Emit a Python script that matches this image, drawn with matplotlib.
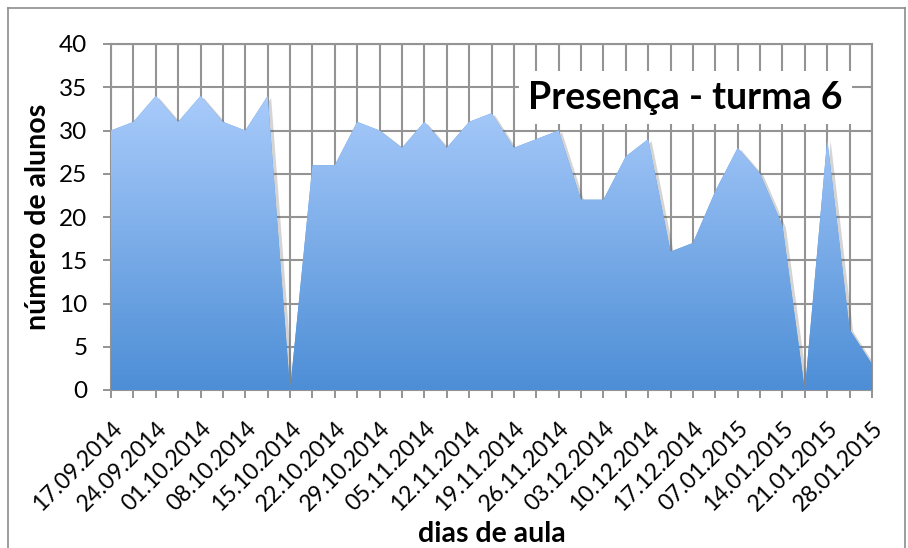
import numpy as np
import matplotlib
matplotlib.use('Agg')
import matplotlib.pyplot as plt
from matplotlib.colors import LinearSegmentedColormap
from matplotlib import patheffects as pe

# aulas (duas por semana), só as datas de segunda aula têm etiqueta
datas = ['17.09.2014', '', '24.09.2014', '', '01.10.2014', '', '08.10.2014', '',
         '15.10.2014', '', '22.10.2014', '', '29.10.2014', '', '05.11.2014', '',
         '12.11.2014', '', '19.11.2014', '', '26.11.2014', '', '03.12.2014', '',
         '10.12.2014', '', '17.12.2014', '', '07.01.2015', '', '14.01.2015', '',
         '21.01.2015', '', '28.01.2015']
alunos = [30, 31, 34, 31, 34, 31, 30, 34, 0, 26, 26, 31, 30, 28, 31, 28, 31, 32,
          28, 29, 30, 22, 22, 27, 29, 16, 17, 23, 28, 25, 19, 0, 29, 7, 3]
yticks = [0, 5, 10, 15, 20, 25, 30, 35, 40]

font = ['Lato', 'DejaVu Sans']
grid_c = '#949494'

fig = plt.figure(figsize=(9.08, 5.48), dpi=100)
ax = fig.add_axes([111/908, 1-390/548, 761/908, 346/548])

x = np.arange(len(alunos))
y = np.array(alunos)

# area com sombra e gradiente
poly = ax.fill_between(x, 0, y, facecolor='#5a97da', edgecolor='none', zorder=2,
                       path_effects=[pe.SimplePatchShadow(offset=(2.5, -1.5), alpha=0.25, shadow_rgbFace='#555555'), pe.Normal()])
cmap = LinearSegmentedColormap.from_list('grad', ['#4d8ed6', '#a9cbfb'])
grad = np.linspace(0, 1, 256).reshape(-1, 1)
im = ax.imshow(grad, cmap=cmap, aspect='auto', origin='lower',
               extent=[0, len(alunos)-1, 0, max(alunos)], zorder=3)
im.set_clip_path(poly.get_paths()[0], transform=ax.transData)

ax.set_xlim(0, len(alunos)-1)
ax.set_ylim(0, 40)
ax.set_xticks(x)
ax.set_xticklabels(datas, rotation=45, ha='right', va='top', rotation_mode='anchor',
                   fontsize=16.5, family=font)
ax.set_yticks(yticks)
ax.set_yticklabels([str(v) for v in yticks], fontsize=17.5, family=font)
ax.tick_params(axis='both', color=grid_c, width=1.4, length=6)
ax.tick_params(axis='y', pad=11)
ax.tick_params(axis='x', pad=14)
ax.grid(True, color=grid_c, linewidth=1.5, zorder=0)
ax.set_axisbelow(True)
for s in ax.spines.values():
    s.set_color(grid_c)
    s.set_linewidth(1.5)

ax.set_ylabel('número de alunos', fontsize=20.5, fontweight='bold', family=font, labelpad=6)
ax.set_xlabel('dias de aula', fontsize=20.5, fontweight='bold', family=font)
ax.xaxis.label.set_va('center')
ax.xaxis.set_label_coords(0.5, (390-534)/346)

ax.text(0.755, 0.845, 'Presença - turma 6', transform=ax.transAxes, ha='center', va='center',
        fontsize=27, fontweight='bold', family=font, zorder=5,
        bbox=dict(facecolor='white', edgecolor='none', boxstyle='square,pad=0.25'))

# moldura do gráfico
for xs, ys in [([8, 8], [0, 540]), ([8, 905], [540, 540]), ([905, 905], [540, 0])]:
    fig.add_artist(plt.Line2D([v/908 for v in xs], [v/548 for v in ys], color='#8c8c8c', lw=1.2))

fig.savefig('out.png', dpi=100)
